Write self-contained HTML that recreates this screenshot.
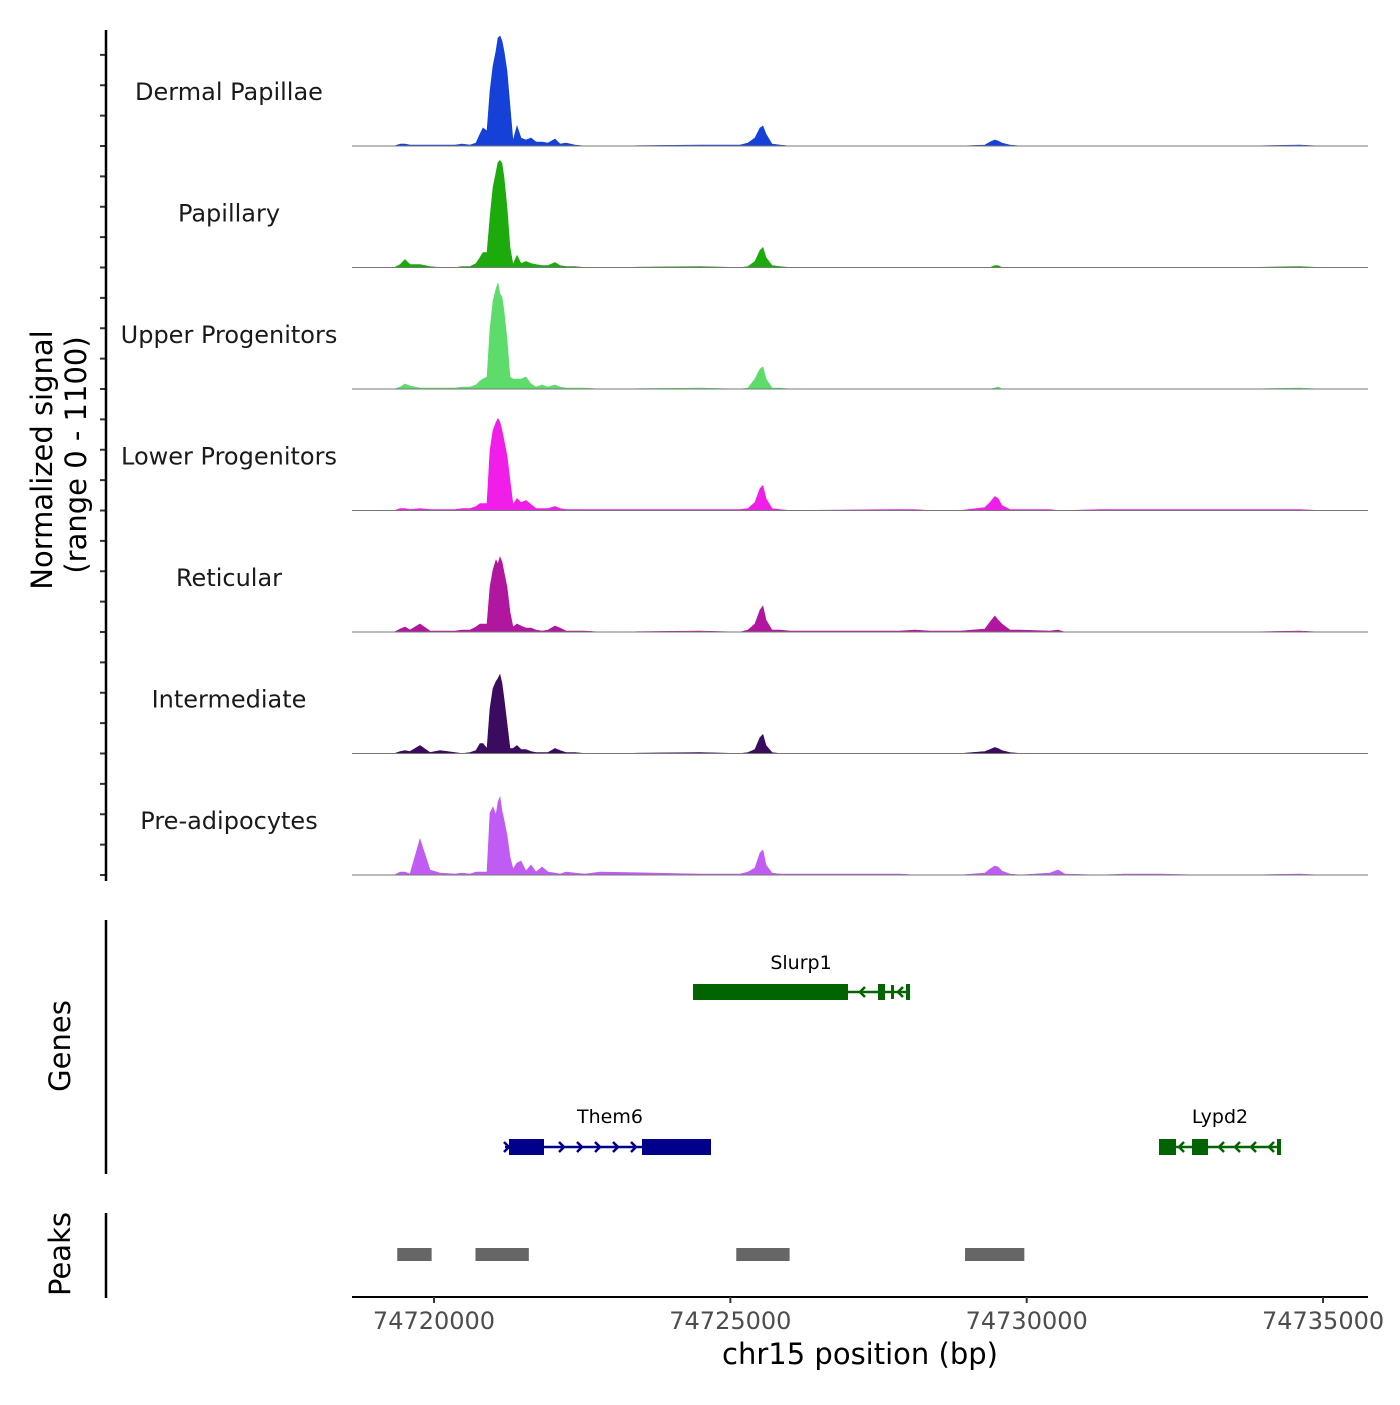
<!DOCTYPE html>
<html><head><meta charset="utf-8"><style>
body{margin:0;background:#fff}
svg text{font-family:"DejaVu Sans","Liberation Sans",sans-serif}
</style></head><body>
<svg id="c" width="1400" height="1400" viewBox="0 0 1400 1400" xmlns="http://www.w3.org/2000/svg"></svg>
<script>
const positions=[74719430,74719510,74719595,74719764,74719933,74720101,74720354,74720472,74720607,74720709,74720776,74720827,74720894,74720945,74720995,74721046,74721080,74721113,74721147,74721181,74721232,74721282,74721333,74721400,74721468,74721552,74721636,74721721,74721822,74721923,74722041,74722126,74722227,74722379,74722547,74722800,
74724487,74725162,74725297,74725415,74725500,74725550,74725601,74725702,74725837,74726006,
74727861,74728114,74728368,74728874,74729295,74729380,74729464,74729515,74729582,74729717,74729886,74730392,74730527,74730645,74731235,74731657,74732248,74732922,74733766,74734609,74734947];
const trackNames=["Dermal Papillae","Papillary","Upper Progenitors","Lower Progenitors","Reticular","Intermediate","Pre-adipocytes"];
const trackColors=["#1541d8","#1caa0c","#5ddc6b","#f01ee8","#b0179e","#3a0b5e","#c05cf4"];
const sigDermalPapillae=[20,20,10,10,10,10,10,20,10,30,120,180,150,550,800,950,1080,1100,1050,950,750,400,50,200,80,60,80,40,40,30,70,20,30,10,0,0, 10,10,30,80,180,200,120,20,10,0, 0,0,0,0,10,40,60,50,30,10,0,0,0,0,0,0,0,0,0,10,0];
const sigPapillary=[30,80,30,30,10,0,0,10,10,40,100,150,150,500,800,950,1050,1070,1040,900,600,200,30,120,40,60,40,30,20,20,50,20,10,10,0,0, 10,0,10,60,170,200,100,20,10,0, 0,0,0,0,0,0,20,20,0,0,0,0,0,0,0,0,0,0,0,10,0];
const sigUpperProgenitors=[20,50,30,10,10,10,10,20,20,40,80,100,120,600,880,1000,1060,950,920,780,500,120,100,100,100,120,50,20,40,20,40,20,10,10,10,0, 10,0,10,100,200,220,100,10,10,0, 0,0,0,0,0,0,10,20,0,0,0,0,0,0,0,0,0,0,0,10,0];
const sigLowerProgenitors=[20,20,10,20,10,10,10,20,20,40,70,70,70,600,800,880,920,880,800,700,550,300,60,120,80,100,60,20,20,20,40,20,10,10,10,10, 10,10,20,80,220,250,120,20,10,0, 10,10,0,0,30,80,140,120,50,10,10,10,0,0,10,10,10,10,10,10,0];
const sigReticular=[30,50,20,80,10,10,10,20,20,50,80,80,80,450,620,720,680,750,700,600,450,200,50,80,60,40,40,20,10,20,60,40,10,10,10,0, 10,0,20,80,220,260,120,20,20,10, 10,20,10,10,30,100,160,120,80,20,20,10,20,0,0,0,0,0,0,10,0];
const sigIntermediate=[20,30,20,80,10,30,10,0,10,30,100,100,50,450,650,720,750,790,700,550,300,50,50,80,40,40,20,10,10,10,50,30,10,10,0,0, 10,0,10,40,160,190,80,10,0,0, 0,0,0,0,20,40,60,50,30,10,0,0,0,0,0,0,0,0,0,0,0];
const sigPreAdipocytes=[30,30,10,360,50,20,10,20,10,30,30,30,30,620,680,600,730,780,640,550,400,180,60,120,140,40,100,30,80,30,20,10,30,20,10,30, 10,10,30,70,220,250,100,20,10,10, 10,0,0,0,20,60,90,80,40,10,0,20,50,10,0,10,10,0,0,10,0];
const signals=[sigDermalPapillae,sigPapillary,sigUpperProgenitors,sigLowerProgenitors,sigReticular,sigIntermediate,sigPreAdipocytes];
const xTicks=[74720000,74725000,74730000,74735000];
const peakStarts=[74719380,74720700,74725100,74728960];
const peakEnds=[74719960,74721600,74726000,74729960];

const NS="http://www.w3.org/2000/svg";
const svg=document.getElementById('c');
function el(tag,attrs,parent){const e=document.createElementNS(NS,tag);for(const k in attrs)e.setAttribute(k,attrs[k]);(parent||svg).appendChild(e);return e;}
const X0=74720000,PX0=434,PXPER=59.27/1000;
function xs(bp){return PX0+(bp-X0)*PXPER;}
const L=352,R=1368,base0=146,TH=121.5;
function ys(v,base){return base-v/1100*110;}

for(let t=0;t<7;t++){
  const base=base0+t*TH;
  const g=el('g',{});
  
  
  let d='M'+xs(74719330)+','+base;
  positions.forEach((p,i)=>{d+=' L'+xs(p).toFixed(1)+','+ys(signals[t][i],base).toFixed(1);});
  d+=' L'+xs(74735000)+','+base+' Z';
  const a=el('path',{d:d,fill:trackColors[t],stroke:trackColors[t],'stroke-width':0.6},g);
  
  
  const bl=el('line',{x1:L,x2:R,y1:base,y2:base,stroke:'#777','stroke-width':1},g);
  
  
  const lab=el('text',{x:229,y:base-46,'font-size':24,'text-anchor':'middle',fill:'#1a1a1a'},g);
  lab.textContent=trackNames[t];
  
  
  for(let k=0;k<4;k++){
    const tk=el('line',{x1:100,x2:106,y1:base-k*TH/4,y2:base-k*TH/4,stroke:'#333','stroke-width':2},g);
    
    
  }
}
</script>
<script>
const s2=document.getElementById('c');
s2.insertAdjacentHTML('beforeend',`
<line x1="106" x2="106" y1="30" y2="881" stroke="#000" stroke-width="2.5"/>
<line x1="106" x2="106" y1="920" y2="1174" stroke="#000" stroke-width="2.5"/>
<line x1="106" x2="106" y1="1213" y2="1298" stroke="#000" stroke-width="2.5"/>
<text transform="translate(52,460) rotate(-90)" text-anchor="middle" font-size="29" fill="#000">Normalized signal</text>
<text transform="translate(86,455) rotate(-90)" text-anchor="middle" font-size="29" fill="#000">(range 0 - 1100)</text>
<text transform="translate(70,1046) rotate(-90)" text-anchor="middle" font-size="29" fill="#000">Genes</text>
<text transform="translate(70,1254) rotate(-90)" text-anchor="middle" font-size="29" fill="#000">Peaks</text>
<g fill="#006400" stroke="#006400">
<text x="801" y="969" font-size="19" text-anchor="middle" stroke="none" fill="#000">Slurp1</text>
<line x1="693" x2="910" y1="992" y2="992" stroke-width="2.5"/>
<rect x="693" y="984" width="155" height="16" stroke="none"/>
<rect x="878" y="984" width="7" height="16" stroke="none"/>
<rect x="891" y="985" width="3" height="14" stroke="none"/>
<rect x="906" y="984" width="4" height="16" stroke="none"/>
<path d="M865,987 l-5,5 l5,5 M903,987 l-5,5 l5,5" fill="none" stroke-width="2.5"/>
</g>
<g fill="#00008b" stroke="#00008b">
<text x="610" y="1123" font-size="19" text-anchor="middle" stroke="none" fill="#000">Them6</text>
<line x1="505" x2="711" y1="1147" y2="1147" stroke-width="2.5"/>
<rect x="509" y="1139" width="35" height="16" stroke="none"/>
<rect x="642" y="1139" width="69" height="16" stroke="none"/>
<path d="M504,1142 l5,5 l-5,5 M559,1142 l5,5 l-5,5 M577,1142 l5,5 l-5,5 M595,1142 l5,5 l-5,5 M613,1142 l5,5 l-5,5 M631,1142 l5,5 l-5,5" fill="none" stroke-width="2.5"/>
</g>
<g fill="#006400" stroke="#006400">
<text x="1220" y="1123" font-size="19" text-anchor="middle" stroke="none" fill="#000">Lypd2</text>
<line x1="1159" x2="1281" y1="1147" y2="1147" stroke-width="2.5"/>
<rect x="1159" y="1139" width="17" height="16" stroke="none"/>
<rect x="1192" y="1139" width="16" height="16" stroke="none"/>
<rect x="1277" y="1139" width="4" height="16" stroke="none"/>
<path d="M1184,1142 l-5,5 l5,5 M1224,1142 l-5,5 l5,5 M1240,1142 l-5,5 l5,5 M1256,1142 l-5,5 l5,5 M1274,1142 l-5,5 l5,5" fill="none" stroke-width="2.5"/>
</g>
<line x1="352" x2="1368" y1="1297" y2="1297" stroke="#000" stroke-width="2"/>
<text x="860" y="1364" font-size="29" text-anchor="middle" fill="#000">chr15 position (bp)</text>
`);
for(let i=0;i<peakStarts.length;i++){
  const r=el('rect',{x:xs(peakStarts[i]),y:1248,width:xs(peakEnds[i])-xs(peakStarts[i]),height:13,fill:'#666'});
  
  
}
xTicks.forEach(v=>{
  const tk=el('line',{x1:xs(v),x2:xs(v),y1:1297,y2:1303,stroke:'#333','stroke-width':2});
  
  
  const tl=el('text',{x:xs(v),y:1329,'font-size':24,'text-anchor':'middle',fill:'#4d4d4d'});
  tl.textContent=String(v);
  
  
});
</script>
</body></html>
